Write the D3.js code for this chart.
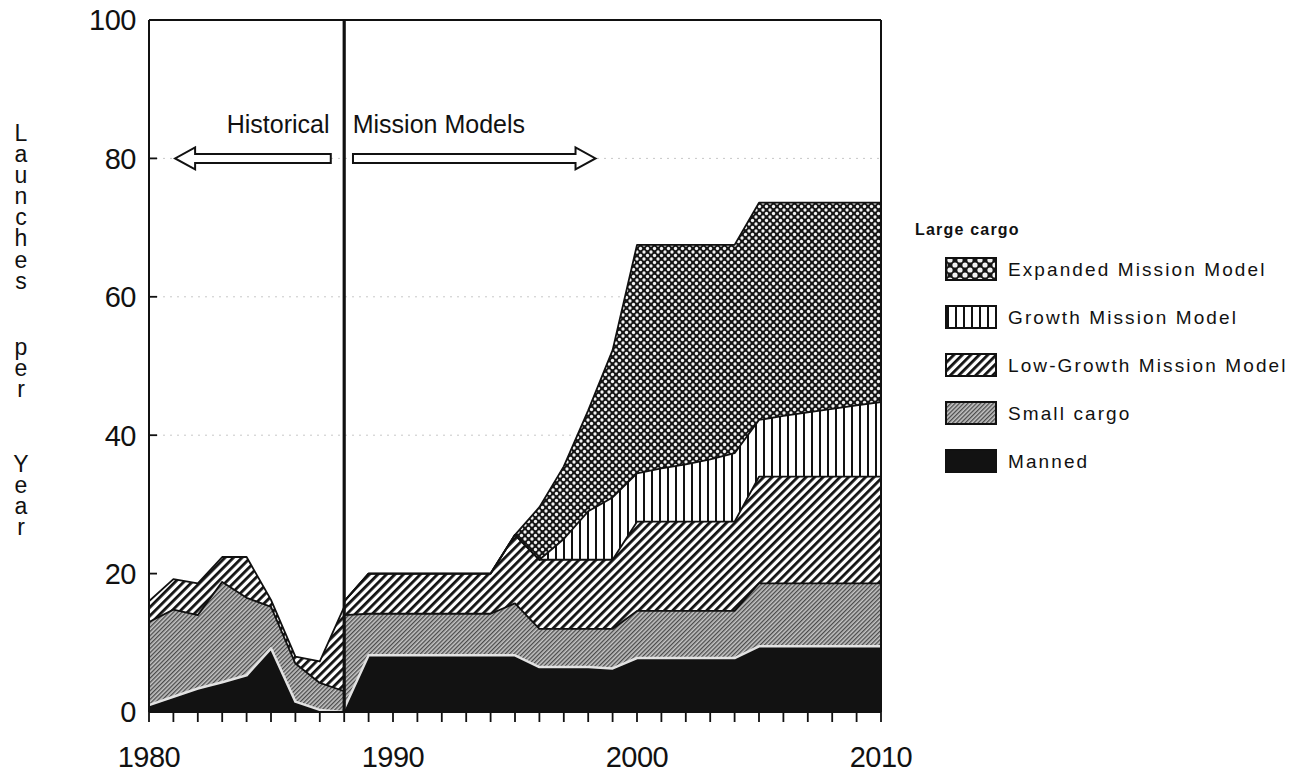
<!DOCTYPE html>
<html>
<head>
<meta charset="utf-8">
<script src="https://cdn.jsdelivr.net/npm/d3@7"></script>
<style>
  body { margin: 0; background: #fff; }
  text { font-family: "Liberation Sans", Arial, sans-serif; fill: #111; }
  .vtitle { writing-mode: vertical-rl; text-orientation: upright; }
</style>
</head>
<body>
<svg id="chart" width="1309" height="784"></svg>
<script>
// ---------------- DATA ----------------
// Historical period (1980-1988)
const histYears   = [1980, 1981, 1982, 1983, 1984, 1985, 1986, 1987, 1988];
const histManned  = [1.0, 2.2, 3.4, 4.3, 5.3, 9.2, 1.5, 0.3, 0.0];
const histSmall   = [12.0, 12.6, 10.6, 14.5, 11.2, 6.0, 5.5, 3.9, 3.0];
const histLarge   = [3.0, 4.4, 4.6, 3.6, 5.9, 1.0, 1.0, 3.1, 12.2];

// Mission models (1988-2010)
const missionYears = [1988, 1989, 1990, 1991, 1992, 1993, 1994, 1995, 1996, 1997, 1998, 1999,
                      2000, 2001, 2002, 2003, 2004, 2005, 2006, 2007, 2008, 2009, 2010];
const manned      = [0.5, 8.2, 8.2, 8.2, 8.2, 8.2, 8.2, 8.2, 6.5, 6.5, 6.5, 6.3,
                     7.8, 7.8, 7.8, 7.8, 7.8, 9.5, 9.5, 9.5, 9.5, 9.5, 9.5];
const smallCargo  = [13.5, 6.0, 6.0, 6.0, 6.0, 6.0, 6.0, 7.5, 5.5, 5.5, 5.5, 5.7,
                     6.8, 6.8, 6.8, 6.8, 6.8, 9.1, 9.1, 9.1, 9.1, 9.1, 9.1];
const lowGrowth   = [2.0, 5.8, 5.8, 5.8, 5.8, 5.8, 5.8, 9.9, 10.0, 10.0, 10.0, 10.0,
                     12.9, 12.9, 12.9, 12.9, 12.9, 15.4, 15.4, 15.4, 15.4, 15.4, 15.4];
const growthModel = [0, 0, 0, 0, 0, 0, 0, 0, 0, 3.0, 7.0, 9.0,
                     7.0, 7.7, 8.3, 9.0, 9.9, 8.2, 8.8, 9.3, 9.8, 10.3, 10.8];
const expandedModel = [0, 0, 0, 0, 0, 0, 0, 0, 7.6, 10.5, 14.6, 21.3,
                     33.0, 32.3, 31.7, 31.0, 30.1, 31.4, 30.8, 30.3, 29.8, 29.3, 28.8];

const yTickValues = [0, 20, 40, 60, 80, 100];
const yGridValues = [40, 60, 80];
const xLabelYears = [1980, 1990, 2000, 2010];
const legendTitle = "Large cargo";
const legendLabels = ["Expanded Mission Model", "Growth Mission Model",
                      "Low-Growth Mission Model", "Small cargo", "Manned"];
const yTitleWords = ["Launches", "per", "Year"];
const labelHistorical = "Historical";
const labelMission = "Mission Models";

// ---------------- LAYOUT ----------------
const svg = d3.select("#chart");
const x = d3.scaleLinear().domain([1980, 2010]).range([149, 881]);
const y = d3.scaleLinear().domain([0, 100]).range([712, 20]);

// ---------------- PATTERNS ----------------
const defs = svg.append("defs");

const pExp = defs.append("pattern").attr("id", "pExp")
  .attr("patternUnits", "userSpaceOnUse").attr("width", 7).attr("height", 7);
pExp.append("rect").attr("width", 7).attr("height", 7).attr("fill", "#161616");
[[0,0],[7,0],[0,7],[7,7],[3.5,3.5]].forEach(([cx, cy]) =>
  pExp.append("circle").attr("cx", cx).attr("cy", cy).attr("r", 1.65).attr("fill", "#f2f2f2"));

const pExpL = defs.append("pattern").attr("id", "pExpL")
  .attr("patternUnits", "userSpaceOnUse").attr("width", 10).attr("height", 10);
pExpL.append("rect").attr("width", 10).attr("height", 10).attr("fill", "#161616");
[[0,0],[10,0],[0,10],[10,10],[5,5]].forEach(([cx, cy]) =>
  pExpL.append("circle").attr("cx", cx).attr("cy", cy).attr("r", 2.6).attr("fill", "#f2f2f2"));

const pVert = defs.append("pattern").attr("id", "pVert")
  .attr("patternUnits", "userSpaceOnUse").attr("width", 8).attr("height", 8);
pVert.append("rect").attr("width", 8).attr("height", 8).attr("fill", "#fff");
pVert.append("rect").attr("x", 3).attr("width", 2).attr("height", 8).attr("fill", "#111");

const pDiag = defs.append("pattern").attr("id", "pDiag")
  .attr("patternUnits", "userSpaceOnUse").attr("width", 6).attr("height", 6)
  .attr("patternTransform", "rotate(45)");
pDiag.append("rect").attr("width", 6).attr("height", 6).attr("fill", "#fff");
pDiag.append("rect").attr("x", 0).attr("width", 2.8).attr("height", 6).attr("fill", "#111");

const pFine = defs.append("pattern").attr("id", "pFine")
  .attr("patternUnits", "userSpaceOnUse").attr("width", 3).attr("height", 3)
  .attr("patternTransform", "rotate(45)");
pFine.append("rect").attr("width", 3).attr("height", 3).attr("fill", "#c4c4c4");
pFine.append("rect").attr("x", 0).attr("width", 1.3).attr("height", 3).attr("fill", "#4a4a4a");

const fills = {
  manned: "#121212", small: "url(#pFine)", low: "url(#pDiag)",
  growth: "url(#pVert)", expanded: "url(#pExp)"
};

// ---------------- GRID ----------------
svg.append("g").selectAll("line").data(yGridValues).join("line")
  .attr("x1", x(1980)).attr("x2", x(2010))
  .attr("y1", d => y(d)).attr("y2", d => y(d))
  .attr("stroke", "#c8c8c8").attr("stroke-width", 1).attr("stroke-dasharray", "2,5");

// ---------------- AREAS ----------------
const area = d3.area().x(d => x(d.data.year)).y0(d => y(d[0])).y1(d => y(d[1]));
const topLine = d3.line().x(d => x(d.data.year)).y(d => y(d[1]));

const histRows = histYears.map((yr, i) => ({year: yr, manned: histManned[i], small: histSmall[i], low: histLarge[i]}));
const histStack = d3.stack().keys(["manned", "small", "low"])(histRows);

const missRows = missionYears.map((yr, i) => ({year: yr, manned: manned[i], small: smallCargo[i],
  low: lowGrowth[i], growth: growthModel[i], expanded: expandedModel[i]}));
const missStack = d3.stack().keys(["manned", "small", "low", "growth", "expanded"])(missRows);

function drawStack(stack) {
  const g = svg.append("g");
  g.selectAll("path.a").data(stack).join("path").attr("class", "a")
    .attr("d", area).attr("fill", s => fills[s.key]).attr("stroke", "none");
  g.selectAll("path.l").data(stack).join("path").attr("class", "l")
    .attr("d", s => topLine(s)).attr("fill", "none")
    .attr("stroke", s => s.key === "manned" ? "#e2e2e2" : "#111")
    .attr("stroke-width", s => s.key === "manned" ? 2.5 : 1.8)
    .attr("stroke-linejoin", "round");
}
drawStack(histStack);
drawStack(missStack);

// ---------------- AXES / FRAME ----------------
const frame = svg.append("g").attr("stroke", "#111").attr("fill", "none");
frame.append("line").attr("x1", x(1980)).attr("x2", x(2010)).attr("y1", y(100)).attr("y2", y(100)).attr("stroke-width", 1.8);
frame.append("line").attr("x1", x(2010)).attr("x2", x(2010)).attr("y1", y(100)).attr("y2", y(0)).attr("stroke-width", 2);
frame.append("line").attr("x1", x(1980)).attr("x2", x(1980)).attr("y1", y(100)).attr("y2", y(0)).attr("stroke-width", 2);
frame.append("line").attr("x1", x(1980)).attr("x2", x(2010)).attr("y1", y(0)).attr("y2", y(0)).attr("stroke-width", 2.2);
frame.append("line").attr("x1", x(1988)).attr("x2", x(1988)).attr("y1", y(100)).attr("y2", y(0)).attr("stroke-width", 3.2);

svg.append("g").selectAll("line").data(d3.range(1980, 2011)).join("line")
  .attr("x1", d => x(d)).attr("x2", d => x(d))
  .attr("y1", y(0)).attr("y2", y(0) + 10)
  .attr("stroke", "#111").attr("stroke-width", 1.8);

svg.append("g").selectAll("line").data(yTickValues.filter(v => v > 0 && v < 100)).join("line")
  .attr("x1", x(1980)).attr("x2", x(1980) + 8)
  .attr("y1", d => y(d)).attr("y2", d => y(d))
  .attr("stroke", "#111").attr("stroke-width", 1.8);

svg.append("g").selectAll("text").data(yTickValues).join("text")
  .attr("x", 136).attr("y", d => y(d)).attr("dy", "0.36em")
  .attr("text-anchor", "end").attr("font-size", 29).attr("letter-spacing", -0.5).text(d => d);

svg.append("g").selectAll("text").data(xLabelYears).join("text")
  .attr("x", d => x(d)).attr("y", 767)
  .attr("text-anchor", "middle").attr("font-size", 29).attr("letter-spacing", -0.5).text(d => d);

// y title: upright stacked letters, one text element per word
const wordStarts = [131, 345, 462];
const letterStep = 21.5;
const titleSize = 23;
const uprightAdvance = 1.148 * titleSize;
yTitleWords.forEach((w, wi) => {
  svg.append("text").attr("class", "vtitle")
    .attr("x", 21).attr("y", wordStarts[wi] - 11)
    .attr("font-size", titleSize)
    .attr("letter-spacing", letterStep - uprightAdvance)
    .text(w);
});

// ---------------- ANNOTATIONS ----------------
svg.append("text").attr("x", x(1987.4)).attr("y", 133)
  .attr("text-anchor", "end").attr("font-size", 25).text(labelHistorical);
svg.append("text").attr("x", x(1988.35)).attr("y", 133)
  .attr("text-anchor", "start").attr("font-size", 25).text(labelMission);

function arrow(xTail, xTip, yc, headLen, headHalf, shaftHalf) {
  const dir = Math.sign(xTip - xTail);
  const xb = xTip - dir * headLen;
  return [[xTail, yc - shaftHalf], [xb, yc - shaftHalf], [xb, yc - headHalf], [xTip, yc],
          [xb, yc + headHalf], [xb, yc + shaftHalf], [xTail, yc + shaftHalf]];
}
const arrowG = svg.append("g");
[[x(1987.45), x(1981.07)], [x(1988.36), x(1998.3)]].forEach(([a, b]) => {
  arrowG.append("polygon")
    .attr("points", arrow(a, b, y(80), 20, 11, 4.5).map(p => p.join(",")).join(" "))
    .attr("fill", "#fff").attr("stroke", "#111").attr("stroke-width", 2).attr("stroke-linejoin", "miter");
});

// ---------------- LEGEND ----------------
const leg = svg.append("g");
leg.append("text").attr("x", 915).attr("y", 235).attr("font-size", 16).attr("font-weight", "bold")
  .attr("letter-spacing", 1.2).text(legendTitle);
const legFills = ["url(#pExpL)", "url(#pVert)", "url(#pDiag)", "url(#pFine)", "#121212"];
const legRow = d3.scalePoint().domain(legendLabels).range([269, 461]);
legendLabels.forEach((lab, i) => {
  const cy = legRow(lab);
  leg.append("rect").attr("x", 946).attr("y", cy - 11).attr("width", 50).attr("height", 22)
    .attr("fill", legFills[i]).attr("stroke", "#111").attr("stroke-width", 2);
  leg.append("text").attr("x", 1008).attr("y", cy).attr("dy", "0.36em")
    .attr("font-size", 19).attr("letter-spacing", 2.1).text(lab);
});
</script>
</body>
</html>
